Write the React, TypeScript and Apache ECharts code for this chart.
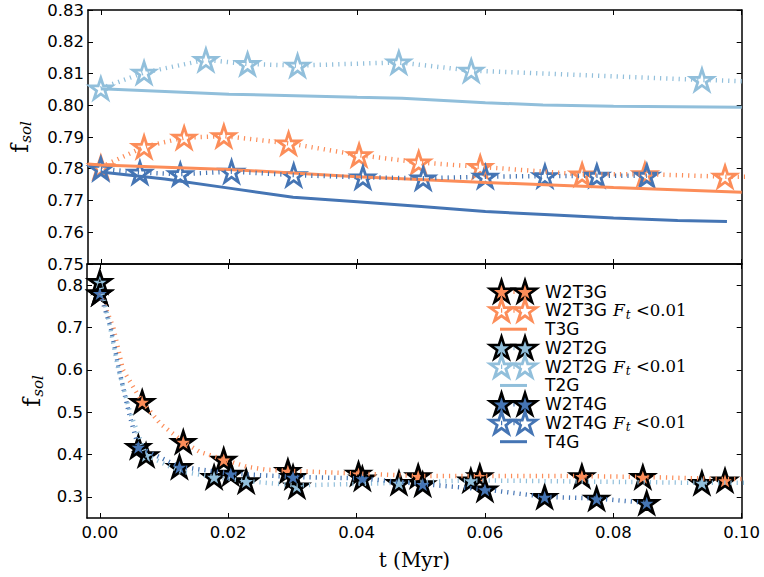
import React, { useEffect, useRef } from "react";
import * as echarts from "echarts";

const ORANGE = "#fc8d59";
const LIGHT = "#91bfdb";
const DARK = "#4575b4";

const T_TICKS = [0, 0.02, 0.04, 0.06, 0.08, 0.1];
const TOP_Y_TICKS = [0.75, 0.76, 0.77, 0.78, 0.79, 0.8, 0.81, 0.82, 0.83];
const BOTTOM_Y_TICKS = [0.3, 0.4, 0.5, 0.6, 0.7, 0.8];

// ---- top panel (F_t < 0.01) ----
const W2T3G_FT_STARS = [[0, 0.7805], [0.00675, 0.7869], [0.013, 0.7898], [0.0192, 0.7903], [0.0293, 0.788], [0.0403, 0.7843], [0.0496, 0.782], [0.0592, 0.7806], [0.0751, 0.7782], [0.0849, 0.7783], [0.0974, 0.7775]];
const W2T3G_FT_LINE = [[0, 0.7805], [0.00675, 0.7869], [0.013, 0.7898], [0.0192, 0.7903], [0.0293, 0.788], [0.0403, 0.7843], [0.0496, 0.782], [0.0592, 0.7806], [0.0751, 0.7782], [0.0849, 0.7783], [0.0974, 0.7775], [0.101, 0.7775]];
const W2T2G_FT_STARS = [[0, 0.8053], [0.00675, 0.8103], [0.0164, 0.8143], [0.0229, 0.813], [0.0307, 0.8125], [0.0465, 0.8135], [0.0578, 0.8109], [0.0938, 0.808]];
const W2T2G_FT_LINE = [[0, 0.8053], [0.00675, 0.8103], [0.0164, 0.8143], [0.0229, 0.813], [0.0307, 0.8125], [0.0465, 0.8135], [0.0578, 0.8109], [0.0938, 0.808], [0.101, 0.8075]];
const W2T4G_FT_STARS = [[0, 0.78], [0.0061, 0.7788], [0.0124, 0.7783], [0.0204, 0.7791], [0.0301, 0.778], [0.0409, 0.7773], [0.0503, 0.777], [0.06, 0.7775], [0.0693, 0.7777], [0.0774, 0.7778], [0.0852, 0.7778]];
const W2T4G_FT_LINE = W2T4G_FT_STARS;
const T3G = [[-0.002, 0.7815], [0, 0.7812], [0.02, 0.7798], [0.04, 0.7775], [0.06, 0.7757], [0.08, 0.7741], [0.1, 0.7726]];
const T2G = [[0, 0.8052], [0.02, 0.8035], [0.04, 0.8025], [0.047, 0.8022], [0.06, 0.8008], [0.069, 0.8001], [0.08, 0.7997], [0.1, 0.7994]];
const T4G = [[0, 0.779], [0.01, 0.7768], [0.02, 0.7739], [0.03, 0.771], [0.04, 0.7696], [0.05, 0.7681], [0.06, 0.7665], [0.07, 0.7655], [0.08, 0.7645], [0.09, 0.7637], [0.0977, 0.7634]];

// ---- bottom panel ----
const W2T3G_STARS = [[0, 0.781], [0.0066, 0.5246], [0.013, 0.43], [0.0193, 0.388], [0.0293, 0.3615], [0.0403, 0.355], [0.0496, 0.349], [0.0592, 0.349], [0.0751, 0.349], [0.0846, 0.347], [0.0974, 0.339]];
const W2T3G_LINE = [[0, 0.781], [0.0021, 0.7], [0.0036, 0.6], [0.0066, 0.5246], [0.0094, 0.473], [0.013, 0.43], [0.0156, 0.406], [0.0193, 0.388], [0.0229, 0.371], [0.026, 0.364], [0.0293, 0.3615], [0.0403, 0.355], [0.0496, 0.349], [0.0592, 0.349], [0.0751, 0.349], [0.0846, 0.347], [0.0974, 0.342], [0.101, 0.342]];
const W2T2G_STARS = [[0, 0.808], [0.0072, 0.3986], [0.0178, 0.347], [0.0228, 0.337], [0.0307, 0.325], [0.0466, 0.333], [0.0578, 0.339], [0.0938, 0.333]];
const W2T2G_LINE = [[0, 0.808], [0.0016, 0.7], [0.0029, 0.6], [0.0047, 0.5], [0.0072, 0.3986], [0.0125, 0.36], [0.0178, 0.347], [0.0228, 0.337], [0.0307, 0.327], [0.0466, 0.333], [0.0578, 0.339], [0.0938, 0.333], [0.101, 0.333]];
const W2T4G_STARS = [[0, 0.781], [0.006, 0.418], [0.0124, 0.371], [0.0204, 0.355], [0.0301, 0.347], [0.0409, 0.3435], [0.0503, 0.33], [0.06, 0.3175], [0.0693, 0.3], [0.0774, 0.296], [0.0852, 0.286]];
const W2T4G_LINE = [[0, 0.781], [0.0017, 0.7], [0.003, 0.6], [0.0045, 0.5], [0.006, 0.418], [0.0124, 0.371], [0.0204, 0.355], [0.0301, 0.347], [0.0409, 0.3435], [0.0503, 0.33], [0.06, 0.3175], [0.0693, 0.3], [0.0774, 0.296], [0.0852, 0.286]];

const LEGEND_ITEMS = [
  { label: "W2T3G", math: false, kind: "filled", color: ORANGE },
  { label: "W2T3G", math: true, kind: "open", color: ORANGE },
  { label: "T3G", math: false, kind: "line", color: ORANGE },
  { label: "W2T2G", math: false, kind: "filled", color: LIGHT },
  { label: "W2T2G", math: true, kind: "open", color: LIGHT },
  { label: "T2G", math: false, kind: "line", color: LIGHT },
  { label: "W2T4G", math: false, kind: "filled", color: DARK },
  { label: "W2T4G", math: true, kind: "open", color: DARK },
  { label: "T4G", math: false, kind: "line", color: DARK },
];
const MATH_LABEL = "{i|F}{s|t} {r|<0.01}";

function starPts(cx: number, cy: number, R: number): number[][] {
  const pts: number[][] = [];
  const r = R * 0.381966;
  for (let k = 0; k < 10; k++) {
    const ang = (-90 + 36 * k) * Math.PI / 180;
    const rr = k % 2 === 0 ? R : r;
    pts.push([cx + rr * Math.cos(ang), cy + rr * Math.sin(ang)]);
  }
  return pts;
}
const STAR_PATH = "path://" + starPts(10, 10, 10).map((p, i) => (i === 0 ? "M" : "L") + p[0].toFixed(3) + "," + p[1].toFixed(3)).join(" ") + " Z";

const DOT = [1.2, 5];
const SANS = "DejaVu Sans";
const SERIF = "DejaVu Serif";
const RICH = {
  i: { fontFamily: SERIF, fontStyle: "italic", fontSize: 17, color: "#000", lineHeight: 18 },
  s: { fontFamily: SERIF, fontStyle: "italic", fontSize: 12, color: "#000", lineHeight: 12, padding: [9, 0, 0, 1] },
  r: { fontFamily: SERIF, fontSize: 16.5, color: "#000", lineHeight: 18 },
};

export default function App() {
  const ref = useRef<HTMLDivElement>(null);
  useEffect(() => {
    if (!ref.current) return;
    const chart = echarts.init(ref.current, undefined, { renderer: "svg" });

    const frameLine = { show: true, onZero: false, lineStyle: { color: "#000", width: 1.5 } };
    const tick = (vals: number[]) => ({ show: true, inside: true, length: 5, customValues: vals, lineStyle: { color: "#000", width: 1 } });
    const xBase = (grid: number, pos: string, labels: boolean) => ({
      type: "value", gridIndex: grid, position: pos, min: -0.002, max: 0.1,
      axisLine: frameLine, axisTick: tick(T_TICKS), splitLine: { show: false },
      axisLabel: labels
        ? { show: true, customValues: T_TICKS, formatter: (v: number) => v.toFixed(2), fontFamily: SANS, fontSize: 16.5, color: "#000", margin: 6 }
        : { show: false },
    });
    const yBase = (grid: number, pos: string, min: number, max: number, ticks: number[], labels: boolean, dec: number) => ({
      type: "value", gridIndex: grid, position: pos, min, max,
      axisLine: frameLine, axisTick: tick(ticks), splitLine: { show: false },
      axisLabel: labels
        ? { show: true, customValues: ticks, formatter: (v: number) => v.toFixed(dec), fontFamily: SANS, fontSize: 16.5, color: "#000", margin: 4 }
        : { show: false },
    });
    const yName = {
      name: "{f|f}{s|sol}", nameLocation: "middle", nameRotate: 90,
      nameTextStyle: {
        rich: {
          f: { fontFamily: SERIF, fontSize: 24, color: "#000" },
          s: { fontFamily: SERIF, fontStyle: "italic", fontSize: 15, color: "#000", padding: [11, 0, 0, 1] },
        },
      },
    };

    const lineS = (name: string, data: number[][], color: string, dotted: boolean, x: number, y: number) => ({
      name, type: "line", xAxisIndex: x, yAxisIndex: y, data, symbol: "none", showSymbol: false,
      lineStyle: { color, width: dotted ? 4.5 : 3, type: dotted ? DOT : "solid", cap: "butt" },
      silent: true, clip: true,
    });
    const starS = (name: string, data: number[][], color: string, filled: boolean, x: number, y: number) => ({
      name, type: "scatter", xAxisIndex: x, yAxisIndex: y, data, symbol: STAR_PATH, symbolKeepAspect: true,
      symbolSize: 22,
      itemStyle: filled
        ? { color, borderColor: "#000", borderWidth: 2.7, opacity: 1 }
        : { color: "rgba(0,0,0,0)", borderColor: color, borderWidth: 2.8, opacity: 1 },
      silent: true, clip: false,
    });

    const graphic: any[] = [];
    const titles: any[] = [];
    LEGEND_ITEMS.forEach((it, i) => {
      const cy = 291.7 + i * 18.75;
      if (it.kind === "line") {
        graphic.push({ type: "line", shape: { x1: 500, y1: cy, x2: 527, y2: cy }, style: { stroke: it.color, lineWidth: 3 }, silent: true });
      } else {
        graphic.push({ type: "line", shape: { x1: 501, y1: cy, x2: 525, y2: cy }, style: { stroke: it.color, lineWidth: 4.5, lineDash: DOT }, silent: true });
        [501.5, 525].forEach((cx) => {
          graphic.push({
            type: "polygon", shape: { points: starPts(cx, cy + 0.8, 12) },
            style: it.kind === "filled"
              ? { fill: it.color, stroke: "#000", lineWidth: 2.6 }
              : { fill: "none", stroke: it.color, lineWidth: 2.8 },
            silent: true,
          });
        });
      }
      titles.push({
        text: it.label, left: 545, top: cy - 10, padding: 0, itemGap: 0,
        textStyle: { fontFamily: SANS, fontSize: 17, fontWeight: "normal", color: "#000", lineHeight: 20 },
      });
      if (it.math) {
        titles.push({
          text: MATH_LABEL, left: 613, top: cy - 9, padding: 0, itemGap: 0,
          textStyle: { fontFamily: SERIF, fontSize: 17, fontWeight: "normal", color: "#000", lineHeight: 18, rich: RICH },
        });
      }
    });

    chart.setOption({
      animation: false,
      backgroundColor: "#fff",
      title: titles,
      grid: [
        { left: 87, right: 22.3, top: 10, height: 254 },
        { left: 87, right: 22.3, top: 264, height: 254 },
      ],
      xAxis: [
        xBase(0, "bottom", false),
        xBase(0, "top", false),
        { ...xBase(1, "bottom", true), name: "t (Myr)", nameLocation: "middle", nameGap: 32, nameTextStyle: { fontFamily: SERIF, fontSize: 20, color: "#000" } },
        xBase(1, "top", false),
      ],
      yAxis: [
        { ...yBase(0, "left", 0.75, 0.83, TOP_Y_TICKS, true, 2), ...yName, nameGap: 55 },
        yBase(0, "right", 0.75, 0.83, TOP_Y_TICKS, false, 2),
        { ...yBase(1, "left", 0.25, 0.85, BOTTOM_Y_TICKS, true, 1), ...yName, nameGap: 42 },
        yBase(1, "right", 0.25, 0.85, BOTTOM_Y_TICKS, false, 1),
      ],
      series: [
        // top panel
        lineS("W2T3G Ft<0.01", W2T3G_FT_LINE, ORANGE, true, 0, 0),
        starS("W2T3G Ft<0.01", W2T3G_FT_STARS, ORANGE, false, 0, 0),
        lineS("T3G", T3G, ORANGE, false, 0, 0),
        lineS("W2T2G Ft<0.01", W2T2G_FT_LINE, LIGHT, true, 0, 0),
        starS("W2T2G Ft<0.01", W2T2G_FT_STARS, LIGHT, false, 0, 0),
        lineS("T2G", T2G, LIGHT, false, 0, 0),
        lineS("W2T4G Ft<0.01", W2T4G_FT_LINE, DARK, true, 0, 0),
        starS("W2T4G Ft<0.01", W2T4G_FT_STARS, DARK, false, 0, 0),
        lineS("T4G", T4G, DARK, false, 0, 0),
        // bottom panel
        lineS("W2T3G", W2T3G_LINE, ORANGE, true, 2, 2),
        starS("W2T3G", W2T3G_STARS, ORANGE, true, 2, 2),
        lineS("W2T2G", W2T2G_LINE, LIGHT, true, 2, 2),
        starS("W2T2G", W2T2G_STARS, LIGHT, true, 2, 2),
        lineS("W2T4G", W2T4G_LINE, DARK, true, 2, 2),
        starS("W2T4G", W2T4G_STARS, DARK, true, 2, 2),
      ],
      graphic,
    });
    return () => chart.dispose();
  }, []);
  return <div ref={ref} style={{ position: "absolute", left: 0, top: 0, width: 764, height: 577 }} />;
}
